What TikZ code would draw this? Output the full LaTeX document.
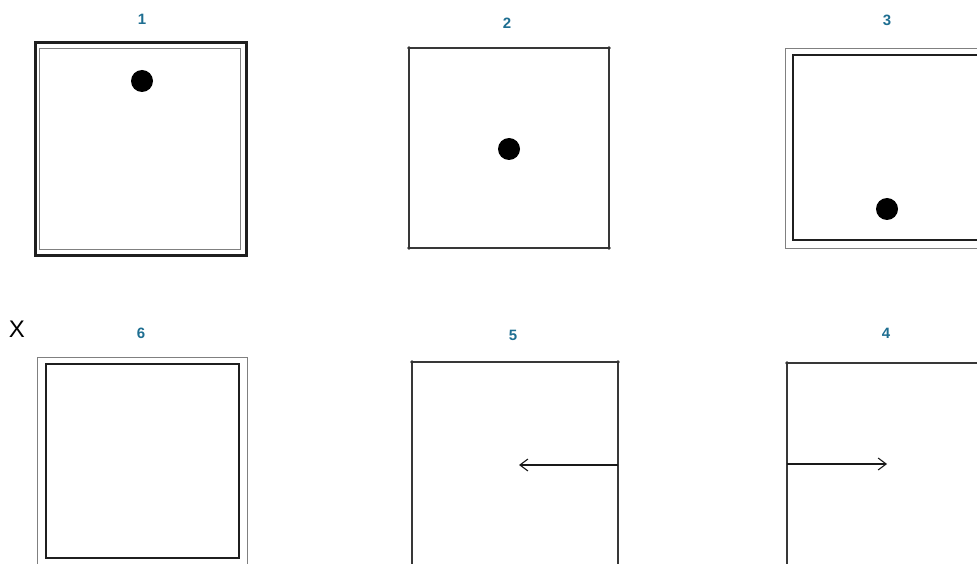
\documentclass[tikz,border=0pt]{standalone}
\usepackage{fontspec}
\setsansfont{Liberation Sans}
\usetikzlibrary{arrows.meta}
\definecolor{lblblue}{HTML}{1E6E91}

\begin{document}
\begin{tikzpicture}[x=1pt, y=-1pt,
        box/.style={rectangle, inner sep=0pt, outer sep=0pt},
        frame/.style={box, draw=black!78, line width=1.6pt},
        thinframe/.style={box, draw=black!50, line width=0.9pt},
        thickframe/.style={box, draw=black!88, line width=2.1pt},
        dot/.style={circle, fill=black, inner sep=0pt, minimum size=22pt},
        lbl/.style={text=lblblue, font=\sffamily\bfseries\fontsize{15}{15}\selectfont},
        move/.style={draw=black!90, line width=1.7pt, -{Straight Barb[length=8pt, width=12pt, line width=1.1pt]}}]
        \useasboundingbox (0,0) rectangle (977,564);
        \clip (0,0) rectangle (977,564);

        % Step 1
        \node[lbl] (l1) at (142,19) {1};
        \node[thickframe, minimum width=211pt, minimum height=213pt] (b1o) at (141,149) {};
        \node[thinframe, minimum width=201pt, minimum height=201pt] (b1i) at (140,149) {};
        \node[dot] (d1) at (142,81) {};

        % Step 2
        \node[lbl] (l2) at (507,23) {2};
        \node[frame, minimum width=200pt, minimum height=200pt] (b2) at (509,148) {};
        \foreach \c in {north west, north east, south west, south east}
            \fill[black!80] (b2.\c) circle (1.8pt);
        \node[dot] (d2) at (509,149) {};

        % Step 3
        \node[lbl] (l3) at (887,20) {3};
        \node[thinframe, minimum width=202pt, minimum height=200pt] (b3o) at (886,148) {};
        \node[thickframe, minimum width=186pt, minimum height=185pt] (b3i) at (886,147.5) {};
        \node[dot] (d3) at (887,209) {};

        % Step 6
        \node[font=\sffamily\fontsize{24}{24}\selectfont] (x) at (17,329) {X};
        \node[lbl] (l6) at (141,333) {6};
        \node[thinframe, minimum width=210pt, minimum height=210pt] (b6o) at (142,462) {};
        \node[thickframe, minimum width=193pt, minimum height=194pt] (b6i) at (142.5,461) {};

        % Step 5
        \node[lbl] (l5) at (513,335) {5};
        \node[frame, minimum width=206pt, minimum height=206pt] (b5) at (515,465) {};
        \foreach \c in {north west, north east}
            \fill[black!80] (b5.\c) circle (1.8pt);
        \coordinate (a5) at (519,465);
        \draw[move] (b5.east) -- (a5);

        % Step 4
        \node[lbl] (l4) at (886,333) {4};
        \node[frame, minimum width=198pt, minimum height=202pt] (b4) at (886,464) {};
        \fill[black!80] (b4.north west) circle (1.8pt);
        \coordinate (a4) at (887,464);
        \draw[move] (b4.west) -- (a4);
\end{tikzpicture}
\end{document}
